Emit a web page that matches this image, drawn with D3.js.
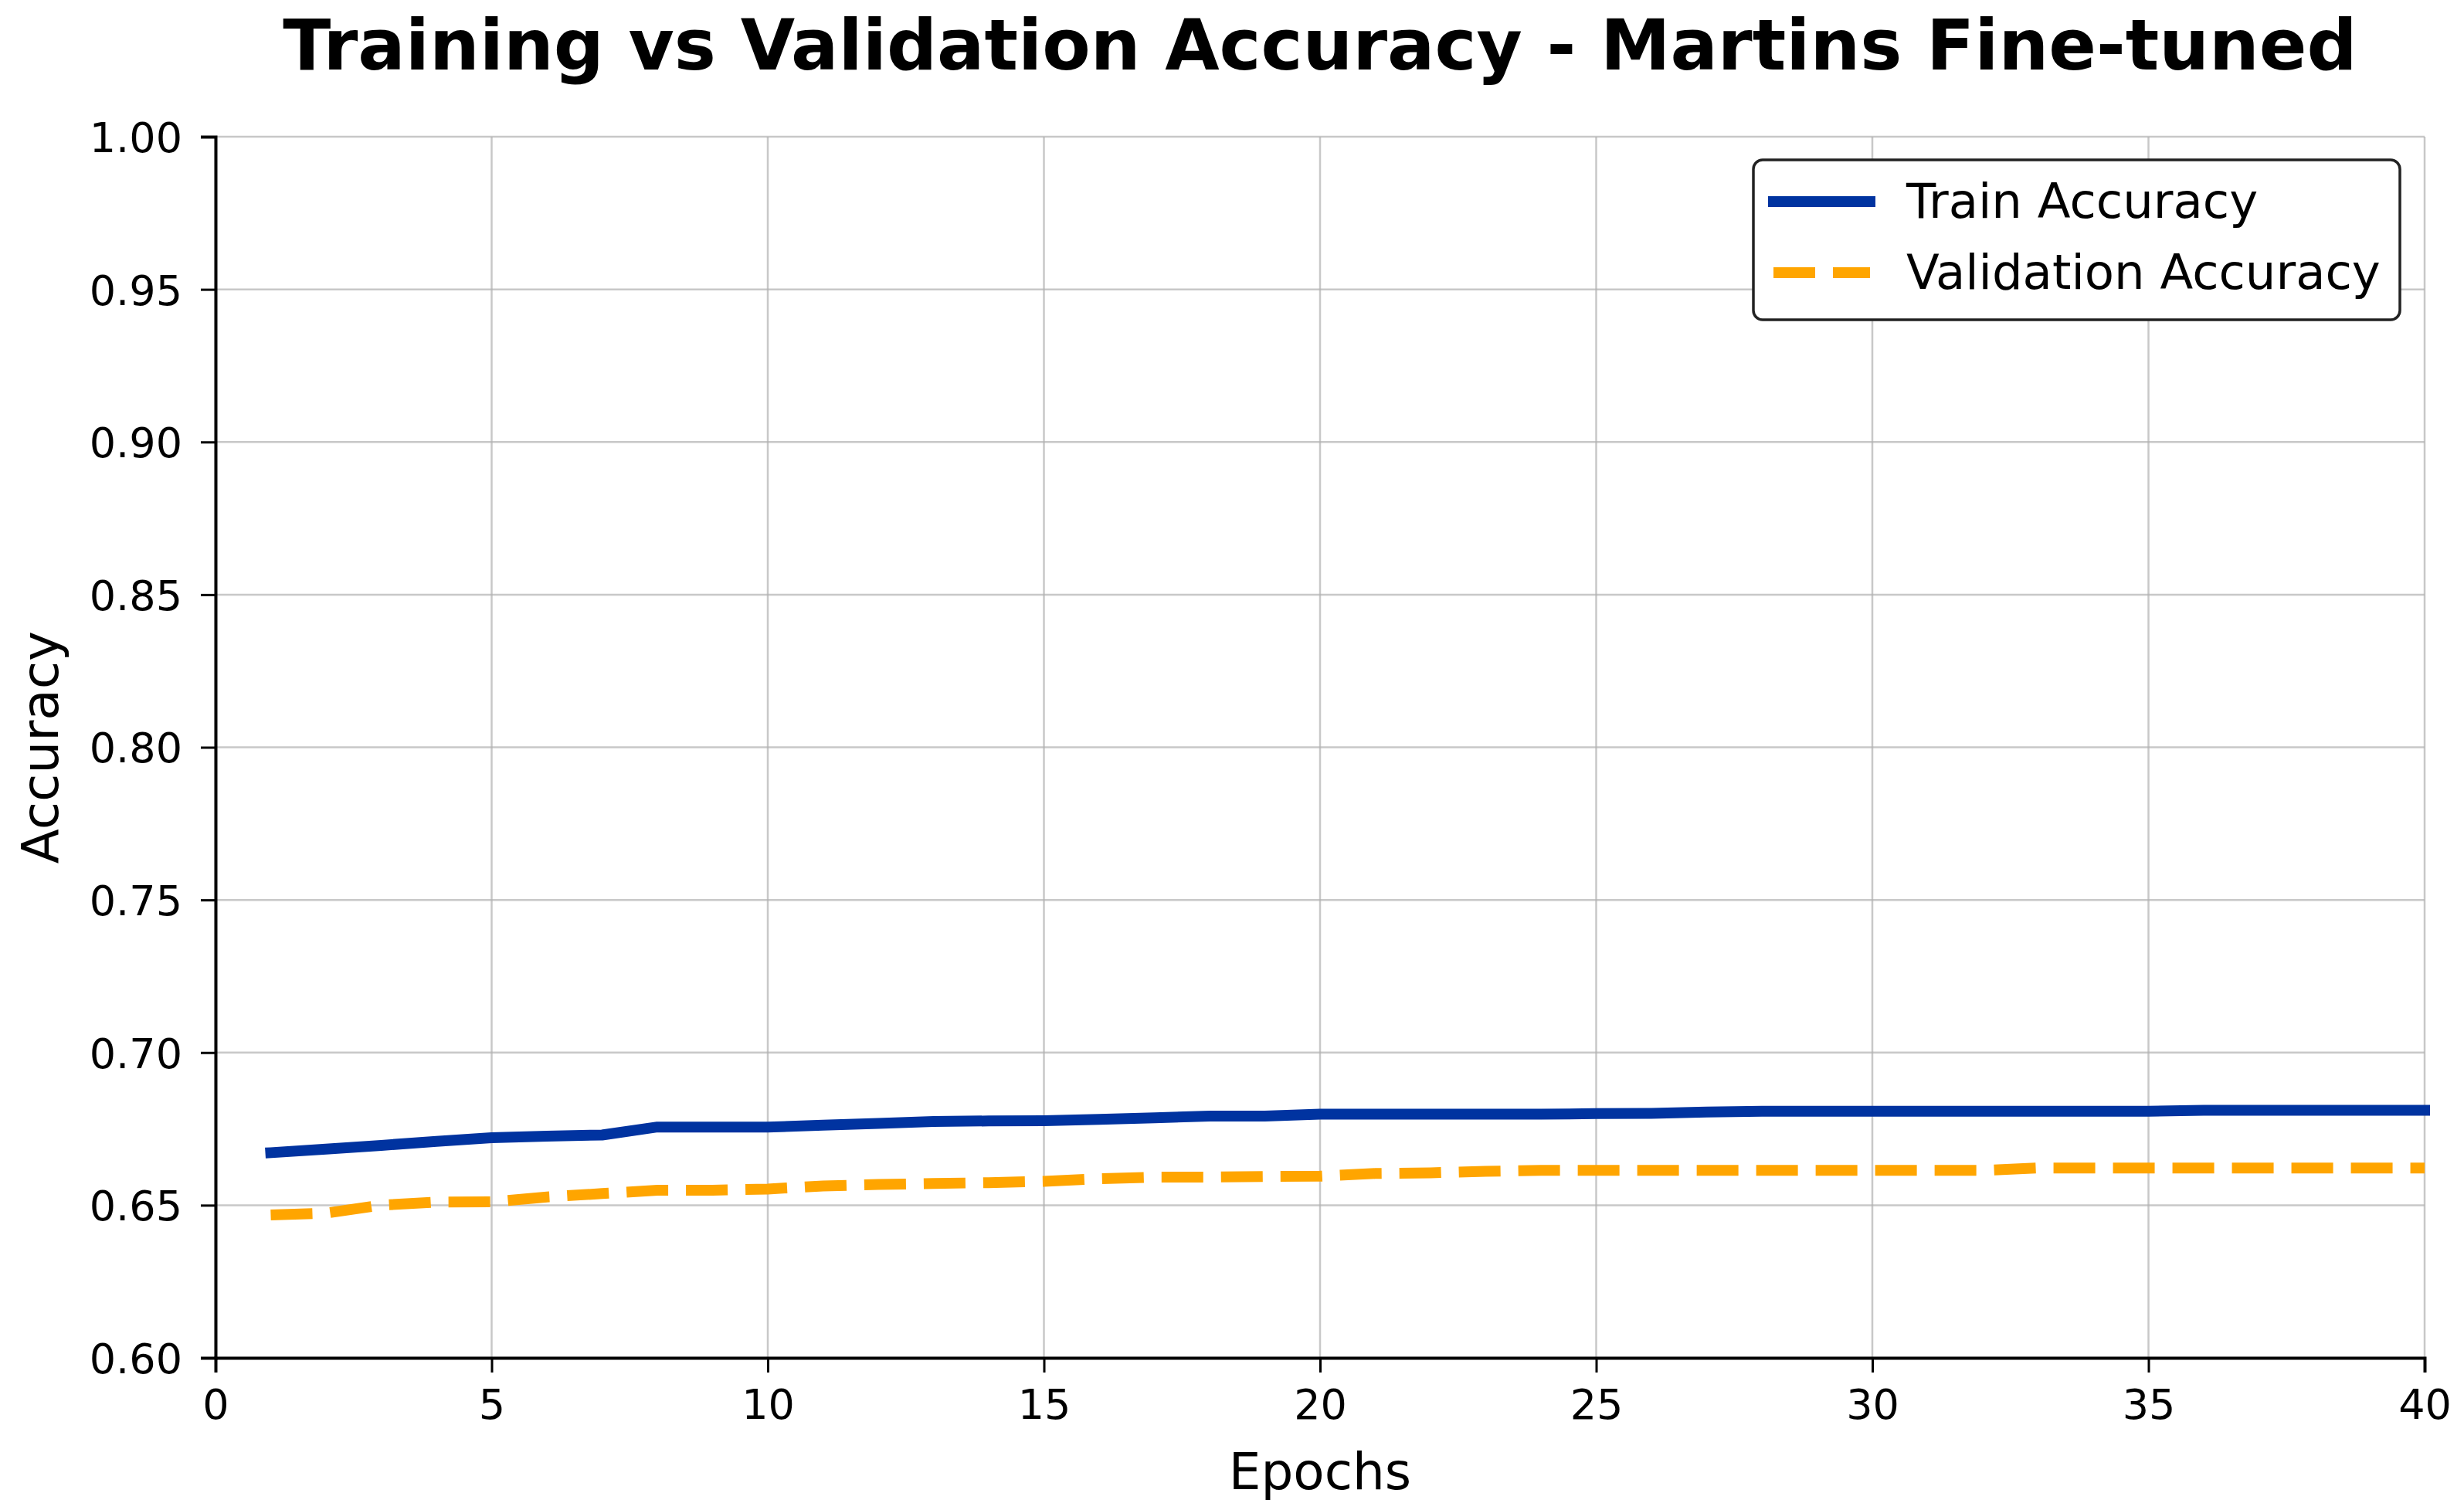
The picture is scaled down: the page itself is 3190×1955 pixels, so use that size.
<!DOCTYPE html>
<html>
<head>
<meta charset="utf-8">
<script src="https://cdn.jsdelivr.net/npm/d3@7"></script>
<style>
  body { margin: 0; background: #fff; }
  text { font-family: "DejaVu Sans", sans-serif; fill: #000; }
</style>
</head>
<body>
<div id="chart"></div>
<script>
// data
var epochs = d3.range(1, 41);
var trainAcc = [0.6672, 0.6684, 0.6696, 0.6709, 0.6721, 0.6726, 0.6730, 0.6756, 0.6756, 0.6756,
                0.6762, 0.6768, 0.6774, 0.6776, 0.6777, 0.6781, 0.6786, 0.6792, 0.6792, 0.6798,
                0.6798, 0.6798, 0.6798, 0.6798, 0.6800, 0.6801, 0.6805, 0.6808, 0.6808, 0.6808,
                0.6808, 0.6808, 0.6808, 0.6808, 0.6808, 0.6811, 0.6811, 0.6811, 0.6811, 0.6811];
var valAcc = [0.6468, 0.6474, 0.6500, 0.6510, 0.6511, 0.6527, 0.6538, 0.6549, 0.6549, 0.6553,
              0.6563, 0.6568, 0.6571, 0.6574, 0.6578, 0.6587, 0.6592, 0.6592, 0.6594, 0.6595,
              0.6604, 0.6606, 0.6611, 0.6614, 0.6614, 0.6614, 0.6614, 0.6614, 0.6614, 0.6614,
              0.6614, 0.6614, 0.6622, 0.6622, 0.6622, 0.6622, 0.6622, 0.6622, 0.6622, 0.6622];
var xTicks = [0, 5, 10, 15, 20, 25, 30, 35, 40];
var yTicks = [0.60, 0.65, 0.70, 0.75, 0.80, 0.85, 0.90, 0.95, 1.00];
var seriesNames = ["Train Accuracy", "Validation Accuracy"];
var seriesColors = ["#0033a0", "#ffa500"];

var svgWidth = 3190;
var svgHeight = 1955;
var margin = {top: 177, right: 51, bottom: 197, left: 279};
var plotW = svgWidth - margin.left - margin.right;
var plotH = svgHeight - margin.top - margin.bottom;
var lineW = 14;
var dash = "54,23";

var svg = d3.select("#chart").append("svg")
  .attr("width", svgWidth).attr("height", svgHeight);

var x = d3.scaleLinear().domain([0, 40]).range([0, plotW]);
var y = d3.scaleLinear().domain([0.6, 1.0]).range([plotH, 0]);

var g = svg.append("g").attr("transform", "translate(" + margin.left + "," + margin.top + ")");

// grid
g.append("g").selectAll("line").data(xTicks).enter().append("line")
  .attr("x1", function(d){ return x(d); }).attr("x2", function(d){ return x(d); })
  .attr("y1", 0).attr("y2", plotH)
  .attr("stroke", "#b0b0b0").attr("stroke-opacity", 0.7).attr("stroke-width", 2.5);
g.append("g").selectAll("line").data(yTicks).enter().append("line")
  .attr("x1", 0).attr("x2", plotW)
  .attr("y1", function(d){ return y(d); }).attr("y2", function(d){ return y(d); })
  .attr("stroke", "#b0b0b0").attr("stroke-opacity", 0.7).attr("stroke-width", 2.5);

// axes
var xAxis = g.append("g").attr("transform", "translate(0," + plotH + ")")
  .call(d3.axisBottom(x).tickValues(xTicks).tickFormat(d3.format("d")).tickSize(19).tickPadding(22));
var yAxis = g.append("g")
  .call(d3.axisLeft(y).tickValues(yTicks).tickFormat(d3.format(".2f")).tickSize(19).tickPadding(24));

[xAxis, yAxis].forEach(function(ax){
  ax.select(".domain").attr("stroke", "#000").attr("stroke-width", 4);
  ax.selectAll(".tick line").attr("stroke", "#000").attr("stroke-width", 3);
  ax.selectAll(".tick text").attr("font-size", 54).attr("font-family", "DejaVu Sans").attr("fill", "#000");
});
yAxis.selectAll(".tick text").attr("dy", "0.36em");

// lines
var line = d3.line()
  .x(function(d, i){ return x(epochs[i]); })
  .y(function(d){ return y(d); });

g.append("path").datum(valAcc)
  .attr("d", line).attr("fill", "none")
  .attr("stroke", seriesColors[1]).attr("stroke-width", lineW)
  .attr("stroke-dasharray", dash).attr("stroke-linecap", "butt");

g.append("path").datum(trainAcc)
  .attr("d", line).attr("fill", "none")
  .attr("stroke", seriesColors[0]).attr("stroke-width", lineW)
  .attr("stroke-linejoin", "round").attr("stroke-linecap", "square");

// titles
svg.append("text")
  .attr("x", margin.left + plotW / 2).attr("y", 90)
  .attr("text-anchor", "middle").attr("font-size", 91).attr("font-weight", "bold")
  .text("Training vs Validation Accuracy - Martins Fine-tuned");

svg.append("text")
  .attr("x", margin.left + plotW / 2).attr("y", 1928)
  .attr("text-anchor", "middle").attr("font-size", 66)
  .text("Epochs");

svg.append("text")
  .attr("transform", "translate(75," + (margin.top + plotH / 2) + ") rotate(-90)")
  .attr("text-anchor", "middle").attr("font-size", 66)
  .text("Accuracy");

// legend
var legend = svg.append("g").attr("transform", "translate(2270,207)");
legend.append("rect")
  .attr("width", 837).attr("height", 207).attr("rx", 12)
  .attr("fill", "#fff").attr("stroke", "#222").attr("stroke-width", 3.5);

var items = legend.selectAll("g.item").data(seriesNames).enter().append("g")
  .attr("transform", function(d, i){ return "translate(0," + (54 + i * 92) + ")"; });
items.append("line")
  .attr("x1", 26).attr("x2", 151).attr("y1", 0).attr("y2", 0)
  .attr("stroke", function(d, i){ return seriesColors[i]; })
  .attr("stroke-width", lineW)
  .attr("stroke-dasharray", function(d, i){ return i == 1 ? dash : null; })
  .attr("stroke-linecap", function(d, i){ return i == 1 ? "butt" : "square"; });
items.append("text")
  .attr("x", 198).attr("y", 21)
  .attr("font-size", 62.5)
  .text(function(d){ return d; });
</script>
</body>
</html>
